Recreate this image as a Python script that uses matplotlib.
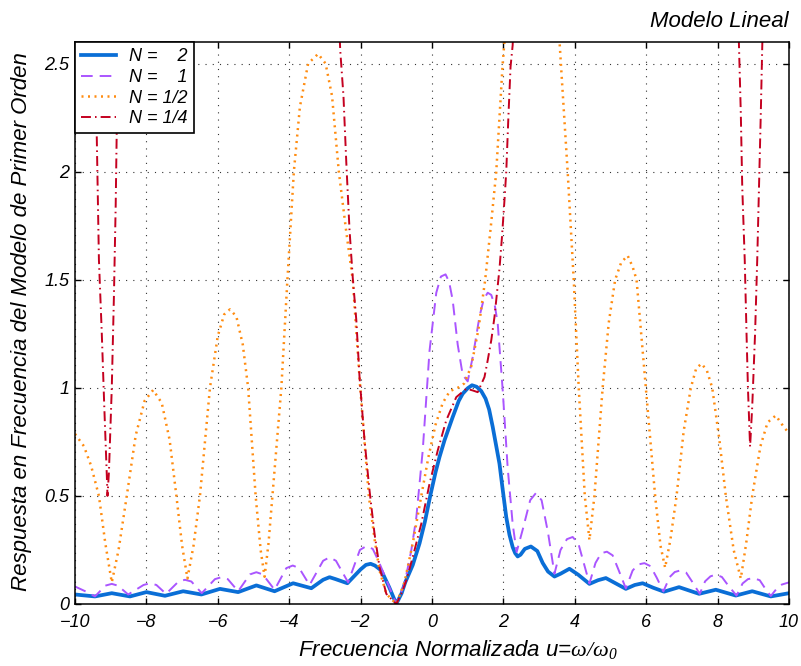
import matplotlib
matplotlib.use("Agg")
import matplotlib.pyplot as plt

plt.rcParams['font.family'] = ['Liberation Sans', 'DejaVu Sans']
plt.rcParams['font.style'] = 'italic'
plt.rcParams['mathtext.fontset'] = 'custom'
plt.rcParams['mathtext.rm'] = 'Liberation Serif'
plt.rcParams['mathtext.it'] = 'Liberation Sans:italic'

# N = 2
u_n2 = [-10, -9.44, -8.97, -8.46, -8.0, -7.48, -6.97, -6.46, -5.94, -5.43,
        -4.92, -4.41, -3.89, -3.38, -3.05, -2.87, -2.7, -2.37, -2.0, -1.85,
        -1.72, -1.6, -1.42, -1.2, -1.0, -0.85, -0.75, -0.54, -0.35, -0.2,
        -0.05, 0.1, 0.21, 0.35, 0.58, 0.75, 0.86, 1.0, 1.12, 1.25,
        1.38, 1.5, 1.6, 1.7, 1.8, 1.89, 1.98, 2.08, 2.17, 2.26,
        2.33, 2.40, 2.48, 2.6, 2.77, 2.95, 3.10, 3.25, 3.43, 3.6,
        3.85, 4.1, 4.41, 4.65, 4.87, 5.15, 5.43, 5.68, 5.90, 6.2,
        6.50, 6.92, 7.48, 7.95, 8.51, 8.97, 9.49, 10]
v_n2 = [0.044, 0.035, 0.05, 0.035, 0.055, 0.038, 0.059, 0.044, 0.07, 0.055,
        0.086, 0.059, 0.096, 0.073, 0.112, 0.124, 0.115, 0.096, 0.16, 0.181,
        0.186, 0.178, 0.155, 0.078, 0.0, 0.05, 0.1, 0.18, 0.28, 0.38,
        0.5, 0.61, 0.68, 0.757, 0.865, 0.94, 0.973, 0.998, 1.012, 1.005,
        0.985, 0.95, 0.9, 0.82, 0.73, 0.649, 0.53, 0.402, 0.32, 0.263,
        0.235, 0.22, 0.228, 0.255, 0.266, 0.245, 0.19, 0.15, 0.127, 0.14,
        0.163, 0.135, 0.093, 0.11, 0.12, 0.095, 0.07, 0.088, 0.096, 0.075,
        0.057, 0.078, 0.047, 0.066, 0.039, 0.059, 0.035, 0.05]

# N = 1
u_n1 = [-10, -9.7, -9.44, -9.15, -8.97, -8.8, -8.51, -8.08, -7.90, -7.72,
        -7.45, -7.1, -6.92, -6.74, -6.45, -6.08, -5.90, -5.72, -5.43, -5.1,
        -4.92, -4.74, -4.41, -4.08, -3.90, -3.72, -3.43, -3.05, -2.87, -2.69,
        -2.35, -2.02, -1.84, -1.66, -1.5, -1.25, -1.0, -0.77, -0.58, -0.44,
        -0.26, -0.07, 0.12, 0.25, 0.38, 0.48, 0.58, 0.72, 0.86, 1.0,
        1.15, 1.33, 1.45, 1.56, 1.66, 1.76, 1.84, 1.98, 2.12, 2.26,
        2.37, 2.55, 2.75, 2.91, 3.07, 3.25, 3.43, 3.6, 3.78, 3.94,
        4.1, 4.25, 4.41, 4.58, 4.74, 4.9, 5.06, 5.22, 5.43, 5.62,
        5.78, 5.95, 6.12, 6.3, 6.48, 6.66, 6.8, 6.95, 7.12, 7.3,
        7.5, 7.65, 7.8, 7.95, 8.12, 8.3, 8.53, 8.7, 8.85, 9.0,
        9.18, 9.32, 9.49, 9.65, 9.8, 10]
v_n1 = [0.081, 0.058, 0.035, 0.085, 0.093, 0.085, 0.044, 0.088, 0.096, 0.088,
        0.047, 0.104, 0.112, 0.104, 0.05, 0.115, 0.124, 0.115, 0.059, 0.137,
        0.147, 0.137, 0.066, 0.166, 0.178, 0.166, 0.088, 0.2, 0.216, 0.2,
        0.1, 0.25, 0.268, 0.255, 0.2, 0.1, 0.0, 0.093, 0.248, 0.40,
        0.71, 1.17, 1.44, 1.515, 1.525, 1.49, 1.405, 1.2, 1.06, 1.03,
        1.15, 1.33, 1.41, 1.44, 1.43, 1.38, 1.30, 0.99, 0.63, 0.37,
        0.24, 0.35, 0.48, 0.513, 0.48, 0.33, 0.14, 0.25, 0.30, 0.31,
        0.28, 0.19, 0.095, 0.19, 0.235, 0.242, 0.225, 0.16, 0.072, 0.155,
        0.183, 0.189, 0.175, 0.12, 0.058, 0.125, 0.148, 0.155, 0.145, 0.10,
        0.047, 0.105, 0.128, 0.136, 0.125, 0.085, 0.039, 0.095, 0.115, 0.12,
        0.11, 0.075, 0.037, 0.07, 0.09, 0.10]

# N = 1/2
u_n12 = [-10, -9.75, -9.55, -9.33, -9.15, -8.97, -8.78, -8.55, -8.3, -8.05,
         -7.81, -7.57, -7.35, -7.16, -7.0, -6.85, -6.68, -6.5, -6.22, -6.0,
         -5.82, -5.66, -5.48, -5.3, -5.15, -4.94, -4.8, -4.69, -4.58, -4.47,
         -4.22, -4.05, -3.87, -3.7, -3.47, -3.19, -2.98, -2.8, -2.61, -2.4,
         -2.22, -2.01, -1.77, -1.6, -1.47, -1.28, -1.0, -0.77, -0.54, -0.3,
         -0.1, 0.1, 0.3, 0.5, 0.72, 0.9, 1.1, 1.3, 1.49, 1.65,
         1.80, 1.98, 2.1, 2.8, 3.5, 3.61, 3.80, 3.97, 4.11, 4.28,
         4.41, 4.55, 4.78, 4.95, 5.13, 5.3, 5.48, 5.62, 5.73, 5.99,
         6.25, 6.4, 6.53, 6.68, 6.85, 7.05, 7.25, 7.4, 7.55, 7.7,
         7.85, 8.05, 8.23, 8.45, 8.65, 8.8, 8.97, 9.2, 9.4, 9.63,
         9.85, 10]
v_n12 = [0.787, 0.73, 0.64, 0.5, 0.28, 0.10, 0.25, 0.5, 0.78, 0.94,
         0.99, 0.93, 0.76, 0.5, 0.27, 0.118, 0.27, 0.5, 1.0, 1.24,
         1.34, 1.363, 1.33, 1.2, 1.0, 0.5, 0.25, 0.126, 0.28, 0.5,
         1.0, 1.5, 2.0, 2.3, 2.5, 2.545, 2.5, 2.35, 2.0, 1.72,
         1.5, 1.0, 0.5, 0.29, 0.155, 0.047, 0.0, 0.1, 0.28, 0.5,
         0.68, 0.83, 0.93, 0.985, 1.0, 1.02, 1.1, 1.27, 1.5, 1.75,
         2.0, 2.5, 2.75, 3.6, 2.8, 2.5, 2.0, 1.5, 1.0, 0.5,
         0.296, 0.5, 1.0, 1.3, 1.5, 1.58, 1.612, 1.56, 1.5, 1.0,
         0.5, 0.27, 0.168, 0.3, 0.5, 0.8, 1.0, 1.09, 1.112, 1.08,
         1.0, 0.76, 0.5, 0.25, 0.118, 0.28, 0.5, 0.73, 0.84, 0.872,
         0.82, 0.79]

# N = 1/4 (values above 2.6 leave the axes)
u_n14 = [-10, -9.6, -9.46, -9.39, -9.33, -9.25, -9.18, -9.11, -9.09, -9.05,
         -8.97, -8.91, -8.86, -8.81, -8.76, -6.0, -2.62, -2.57, -2.48, -2.40,
         -2.31, -2.22, -2.12, -2.03, -1.89, -1.75, -1.61, -1.47, -1.28, -1.0,
         -0.86, -0.72, -0.54, -0.30, -0.07, 0.16, 0.40, 0.68, 0.96, 1.14,
         1.28, 1.47, 1.56, 1.66, 1.75, 1.89, 1.96, 2.03, 2.08, 2.14,
         2.20, 2.26, 2.32, 5.5, 8.55, 8.60, 8.65, 8.69, 8.76, 8.81,
         8.85, 8.91, 8.97, 9.05, 9.11, 9.16, 9.21, 9.25, 9.3, 10]
v_n14 = [5.0, 3.2, 2.6, 2.16, 1.592, 1.253, 0.914, 0.6, 0.50, 0.609,
         0.999, 1.423, 1.846, 2.44, 3.0, 6.0, 2.75, 2.56, 2.35, 2.04,
         1.73, 1.51, 1.313, 1.05, 0.757, 0.525, 0.325, 0.17, 0.047, 0.0,
         0.047, 0.109, 0.217, 0.371, 0.556, 0.71, 0.85, 0.957, 0.996, 0.988,
         0.98, 1.05, 1.127, 1.22, 1.328, 1.55, 1.698, 1.868, 2.0, 2.254,
         2.485, 2.586, 2.9, 6.0, 2.9, 2.575, 2.27, 1.931, 1.592, 1.253,
         0.999, 0.728, 0.914, 1.253, 1.592, 1.931, 2.27, 2.575, 2.9, 5.0]

x_ticks = [-10, -8, -6, -4, -2, 0, 2, 4, 6, 8, 10]
x_labels = ['\u221210', '\u22128', '\u22126', '\u22124', '\u22122', '0', '2', '4', '6', '8', '10']
y_ticks = [0, 0.5, 1, 1.5, 2, 2.5]
y_labels = ['0', '0.5', '1', '1.5', '2', '2.5']

fig = plt.figure(figsize=(8.01, 6.66), dpi=100)
ax = fig.add_axes([75 / 801, 62 / 666, 714 / 801, 562 / 666])

ax.plot(u_n2, v_n2, color='#0a6ed6', lw=2.7, solid_joinstyle='round', label='N =    2')
ax.plot(u_n1, v_n1, color='#aa55ff', lw=1.4, dashes=(6, 3.6), label='N =    1')
ax.plot(u_n12, v_n12, color='#ff8c10', lw=1.8, dashes=(0.8, 1.8), label='N = 1/2')
ax.plot(u_n14, v_n14, color='#c4001f', lw=1.4, dashes=(5.1, 2.1, 0.8, 2.1), label='N = 1/4')

ax.set_xlim(-10, 10)
ax.set_ylim(0, 2.6)
ax.set_xticks(x_ticks)
ax.set_xticklabels(x_labels)
ax.set_yticks(y_ticks)
ax.set_yticklabels(y_labels)
ax.tick_params(direction='in', top=True, right=True, length=4, width=1,
               labelsize=13, pad=4)
ax.tick_params(axis='x', pad=7.5)
ax.grid(True, linestyle=(0, (1, 5.5)), color='#333333', linewidth=0.8)
for s in ax.spines.values():
    s.set_linewidth(1.1)

leg = ax.legend(loc='upper left', borderaxespad=0, fancybox=False, edgecolor='black',
                framealpha=1, handlelength=1.9, fontsize=13, labelspacing=0.2,
                borderpad=0.35, handletextpad=0.75)
leg.get_frame().set_linewidth(1.2)

fig.text(789 / 801, 1 - 27 / 666, 'Modelo Lineal', ha='right', va='baseline', fontsize=16)
fig.text(458 / 801, 1 - 656 / 666, r'Frecuencia Normalizada u=$\mathrm{\omega/\omega}_{\mathit{0}}$',
         ha='center', va='baseline', fontsize=16)
fig.text(22 / 801, 1 - 322 / 666, 'Respuesta en Frecuencia del Modelo de Primer Orden',
         rotation=90, ha='center', va='center', fontsize=16)

fig.savefig('out.png', dpi=100)
